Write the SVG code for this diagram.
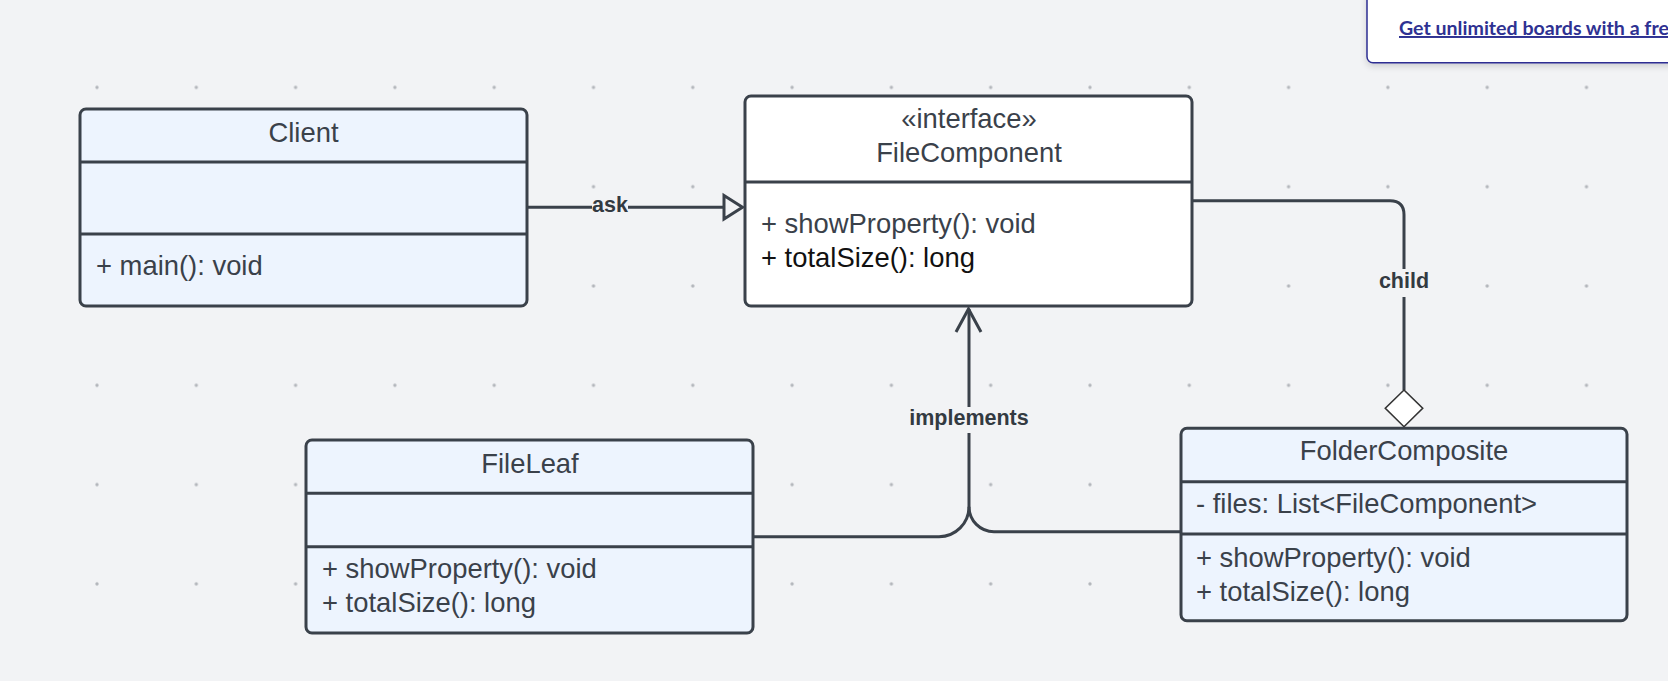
<svg xmlns="http://www.w3.org/2000/svg" width="1668" height="681" viewBox="0 0 1668 681">
<defs>
<pattern id="dots" x="-2.3" y="-11.9" width="99.3" height="99.3" patternUnits="userSpaceOnUse">
<circle cx="0" cy="0" r="1.7" fill="#b3b6bb"/>
<circle cx="99.3" cy="0" r="1.7" fill="#b3b6bb"/>
<circle cx="0" cy="99.3" r="1.7" fill="#b3b6bb"/>
<circle cx="99.3" cy="99.3" r="1.7" fill="#b3b6bb"/>
</pattern>
<filter id="sh" x="-10%" y="-30%" width="120%" height="180%">
<feDropShadow dx="0" dy="3" stdDeviation="3" flood-color="#000" flood-opacity="0.15"/>
</filter>
</defs>
<style>
.box{fill:#edf4fe;stroke:#3a414a;stroke-width:3}
.div{stroke:#3a414a;stroke-width:3}
.t{font-family:"Liberation Sans",Arial,sans-serif;font-size:27.4px;fill:#3a414a}
.c{text-anchor:middle}
.lbl{font-family:"Liberation Sans",Arial,sans-serif;font-size:21.5px;font-weight:bold;fill:#333a41;text-anchor:middle}
.conn{fill:none;stroke:#3a414a;stroke-width:3}
</style>
<rect width="1668" height="681" fill="#f2f3f5"/>
<rect width="1668" height="681" fill="url(#dots)"/>

<g id="connectors">
<line class="conn" x1="527" y1="207.3" x2="724" y2="207.3"/>
<polygon points="724,195.5 742.5,207.3 724,219" fill="#f2f3f5" stroke="#3a414a" stroke-width="3"/>
<rect x="592" y="196" width="36" height="22" fill="#f2f3f5"/>
<text class="lbl" x="610" y="211.7">ask</text>

<path class="conn" stroke-width="2" stroke="#333" d="M1192,200.7 H1390 Q1404,200.7 1404,214.7 V390"/>
<polygon points="1404,390 1422.7,408.3 1404,426.7 1385.3,408.3" fill="#fff" stroke="#333" stroke-width="1.6"/>
<rect x="1376" y="269" width="56" height="28" fill="#f2f3f5"/>
<text class="lbl" x="1404" y="288.3">child</text>

<path class="conn" d="M753,536.7 H939 A30,30 0 0 0 969,506.7 V309"/>
<path class="conn" d="M1181,531.7 H994 A25,25 0 0 1 969,506.7"/>
<polyline class="conn" points="956,332 968.5,309 981,332"/>
<rect x="905" y="407" width="128" height="26" fill="#f2f3f5"/>
<text class="lbl" x="969" y="425">implements</text>
</g>

<g id="client">
<rect class="box" x="80" y="109" width="447" height="197" rx="6"/>
<line class="div" x1="80" y1="162" x2="527" y2="162"/>
<line class="div" x1="80" y1="234" x2="527" y2="234"/>
<text class="t c" x="303.5" y="142">Client</text>
<text class="t" x="96" y="275">+ main(): void</text>
</g>

<g id="filecomponent">
<rect class="box" x="745" y="96" width="447" height="210" rx="6" style="fill:#fff"/>
<line class="div" x1="745" y1="182" x2="1192" y2="182"/>
<text class="t c" x="969" y="128">«interface»</text>
<text class="t c" x="969" y="161.7">FileComponent</text>
<text class="t" x="761" y="233">+ showProperty(): void</text>
<text class="t" x="761" y="266.7" style="fill:#111">+ totalSize(): long</text>
</g>

<g id="fileleaf">
<rect class="box" x="306" y="440" width="447" height="193" rx="6"/>
<line class="div" x1="306" y1="493.3" x2="753" y2="493.3"/>
<line class="div" x1="306" y1="546.7" x2="753" y2="546.7"/>
<text class="t c" x="530" y="473.3">FileLeaf</text>
<text class="t" x="322" y="578.3">+ showProperty(): void</text>
<text class="t" x="322" y="612.3">+ totalSize(): long</text>
</g>

<g id="foldercomposite">
<rect class="box" x="1181" y="428.3" width="446" height="192.4" rx="6"/>
<line class="div" x1="1181" y1="481.7" x2="1627" y2="481.7"/>
<line class="div" x1="1181" y1="534" x2="1627" y2="534"/>
<text class="t c" x="1404" y="460">FolderComposite</text>
<text class="t" x="1196" y="512.7">- files: List&lt;FileComponent&gt;</text>
<text class="t" x="1196" y="566.7">+ showProperty(): void</text>
<text class="t" x="1196" y="600.7">+ totalSize(): long</text>
</g>

<g id="banner">
<rect x="1367" y="-10" width="320" height="72.7" rx="6" fill="#fff" stroke="#2d2f92" stroke-width="1.5" filter="url(#sh)"/>
<text x="1399" y="35" font-family="Lato, 'Open Sans', sans-serif" font-size="19.6" font-weight="bold" fill="#2e3192" text-decoration="underline">Get unlimited boards with a free</text>
</g>
</svg>
